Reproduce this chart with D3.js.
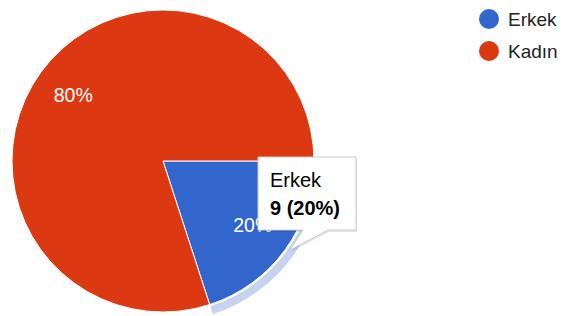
<!DOCTYPE html>
<html>
<head>
<meta charset="utf-8">
<script src="https://cdn.jsdelivr.net/npm/d3@7"></script>
<style>
  body { margin: 0; background: #fff; }
  text { font-family: Arial, "Liberation Sans", sans-serif; }
</style>
</head>
<body>
<script>
const width = 561;
const height = 316;

const labels = ["Erkek", "Kadın"];
const counts = [9, 36];
const colors = ["#3366cc", "#dc3912"];

const cx = 163;
const cy = 161;
const r = 151;

const total = d3.sum(counts);

const svg = d3
  .select("body")
  .append("svg")
  .attr("width", width)
  .attr("height", height);

// first slice begins at 3 o'clock (as in the reference)
const pie = d3
  .pie()
  .sort(null)
  .value((d) => d)
  .startAngle(Math.PI / 2)
  .endAngle(Math.PI / 2 + 2 * Math.PI);

const arcs = pie(counts);
const arc = d3.arc().innerRadius(0).outerRadius(r);

const g = svg.append("g").attr("transform", `translate(${cx},${cy})`);

// hover ring around the highlighted slice
g.append("path")
  .attr(
    "d",
    d3
      .arc()
      .innerRadius(r + 2)
      .outerRadius(r + 10)
      .startAngle(arcs[0].startAngle)
      .endAngle(arcs[0].endAngle)()
  )
  .attr("fill", "#c5d3f1");

g.selectAll("path.slice")
  .data(arcs)
  .join("path")
  .attr("class", "slice")
  .attr("d", arc)
  .attr("fill", (d, i) => colors[i])
  .attr("stroke", "#fff")
  .attr("stroke-width", 1);

const labelArc = d3.arc().innerRadius(r * 0.735).outerRadius(r * 0.735);

g.selectAll("text.pct")
  .data(arcs)
  .join("text")
  .attr("class", "pct")
  .attr("x", (d) => labelArc.centroid(d)[0])
  .attr("y", (d) => labelArc.centroid(d)[1] + 6)
  .attr("text-anchor", "middle")
  .attr("fill", "#fff")
  .attr("font-size", 19.5)
  .text((d) => Math.round((d.value / total) * 100) + "%");

// legend
const legend = svg
  .selectAll("g.legend")
  .data(labels)
  .join("g")
  .attr("class", "legend")
  .attr("transform", (d, i) => `translate(489,${19 + i * 32})`);

legend
  .append("circle")
  .attr("r", 10)
  .attr("fill", (d, i) => colors[i]);

legend
  .append("text")
  .attr("x", 19)
  .attr("y", 7)
  .attr("font-size", 19)
  .attr("fill", "#222")
  .text((d) => d);

// tooltip
const tip = svg.append("g");
const bx = 258, by = 157, bw = 98, bh = 73;
const tipPath =
  `M${bx},${by}H${bx + bw}V${by + bh}H${bx + 70}L${bx + 32},${by + 93}L${bx + 45},${by + bh}H${bx}Z`;

tip.append("path")
  .attr("d", tipPath)
  .attr("transform", "translate(1,2)")
  .attr("fill", "#000")
  .attr("opacity", 0.1);

tip.append("path")
  .attr("d", tipPath)
  .attr("fill", "#fff")
  .attr("stroke", "#cccccc")
  .attr("stroke-width", 1);

tip.append("text")
  .attr("x", 270)
  .attr("y", 187)
  .attr("font-size", 20)
  .attr("fill", "#000")
  .text(labels[0]);

tip.append("text")
  .attr("x", 270)
  .attr("y", 215)
  .attr("font-size", 20)
  .attr("font-weight", "bold")
  .attr("fill", "#000")
  .text(`${counts[0]} (${Math.round((counts[0] / total) * 100)}%)`);
</script>
</body>
</html>
